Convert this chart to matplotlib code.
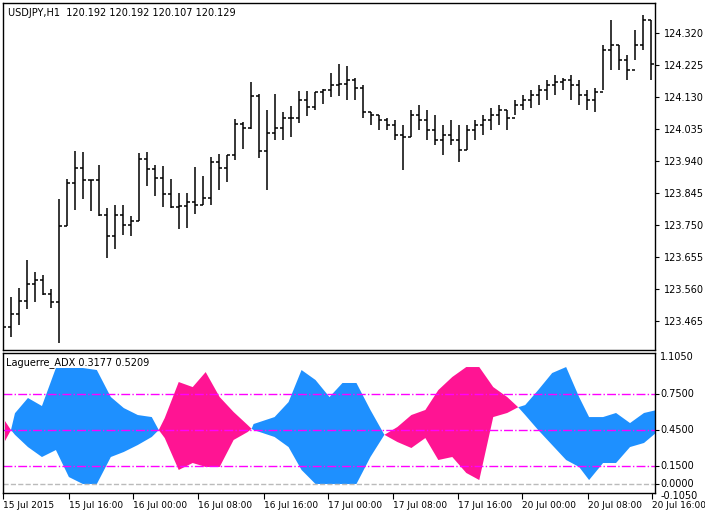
import matplotlib
matplotlib.use("Agg")
import matplotlib.pyplot as plt
import numpy as np

plt.rcParams['font.family'] = ['DejaVu Sans']

# --- price bars (H1) ---
highs = [123.483,123.536,123.563,123.646,123.610,123.601,123.560,123.827,123.886,123.970,
         123.967,123.883,123.928,123.800,123.809,123.809,123.777,123.964,123.967,123.928,
         123.925,123.886,123.845,123.845,123.922,123.895,123.952,123.961,123.958,124.065,
         124.056,124.174,124.139,124.091,124.139,124.085,124.103,124.148,124.148,124.145,
         124.154,124.201,124.228,124.222,124.186,124.166,124.085,124.076,124.068,124.062,
         124.047,124.091,124.106,124.091,124.076,124.047,124.062,124.047,124.047,124.062,
         124.076,124.097,124.106,124.091,124.121,124.136,124.151,124.166,124.180,124.195,
         124.186,124.195,124.180,124.151,124.157,124.284,124.359,124.284,124.255,124.329,
         124.373,124.359]
lows = [123.438,123.417,123.453,123.500,123.521,123.542,123.503,123.399,123.747,123.794,
        123.827,123.791,123.777,123.652,123.679,123.720,123.717,123.762,123.866,123.836,
        123.803,123.800,123.738,123.741,123.782,123.809,123.809,123.854,123.877,123.943,
        123.975,124.035,123.949,123.854,124.002,124.002,124.011,124.053,124.073,124.091,
        124.109,124.130,124.133,124.121,124.121,124.068,124.047,124.032,124.032,124.002,
        123.913,124.011,124.032,124.002,123.987,123.958,123.987,123.937,123.973,124.002,
        124.017,124.032,124.047,124.032,124.076,124.091,124.097,124.106,124.121,124.136,
        124.151,124.121,124.106,124.091,124.085,124.151,124.210,124.210,124.180,124.240,
        124.270,124.180]
closes = [123.447,123.485,123.524,123.575,123.587,123.545,123.521,123.747,123.875,123.919,
          123.883,123.883,123.779,123.717,123.779,123.750,123.762,123.946,123.916,123.889,
          123.842,123.803,123.806,123.818,123.809,123.830,123.937,123.919,123.958,124.050,
          124.038,124.133,123.970,124.023,124.038,124.068,124.068,124.121,124.100,124.145,
          124.151,124.166,124.169,124.180,124.157,124.085,124.076,124.062,124.047,124.017,
          124.011,124.076,124.062,124.032,124.002,124.017,124.002,123.973,124.032,124.047,
          124.062,124.076,124.091,124.068,124.106,124.121,124.136,124.151,124.166,124.174,
          124.180,124.166,124.136,124.121,124.145,124.270,124.284,124.240,124.210,124.284,
          124.359,124.228]
price_ticks = [124.320,124.225,124.130,124.035,123.940,123.845,123.750,123.655,123.560,123.465]

# --- indicator envelope (x in chart positions) ---
ind_x = [4,10,14,27,41,55,68,82,96,110,123,137,151,158,164,178,192,205,219,233,247,251,253,
         274,288,301,315,329,342,356,370,384,397,411,425,438,452,466,479,493,507,518,525,538,
         552,566,579,589,603,616,630,644,657]
ind_hi = [0.525,0.45,0.59,0.717,0.65,0.967,0.967,0.967,0.95,0.725,0.633,0.575,0.558,0.45,
          0.55,0.85,0.808,0.933,0.725,0.60,0.492,0.46,0.50,0.558,0.683,0.95,0.867,0.725,
          0.842,0.842,0.617,0.41,0.475,0.575,0.617,0.783,0.892,0.975,0.975,0.808,0.725,0.64,
          0.658,0.783,0.925,0.975,0.725,0.558,0.558,0.592,0.508,0.592,0.617]
ind_lo = [0.358,0.45,0.41,0.308,0.225,0.283,0.058,0.0,0.0,0.225,0.267,0.325,0.392,0.45,
          0.383,0.117,0.175,0.142,0.142,0.367,0.433,0.46,0.45,0.392,0.308,0.117,0.0,0.0,
          0.0,0.0,0.225,0.41,0.35,0.30,0.383,0.20,0.225,0.092,0.033,0.558,0.592,0.64,
          0.575,0.45,0.325,0.20,0.142,0.033,0.175,0.175,0.308,0.342,0.433]
# 1 = bullish (blue), -1 = bearish (pink), 0 = crossing
ind_dir = [-1,0,1,1,1,1,1,1,1,1,1,1,1,0,-1,-1,-1,-1,-1,-1,-1,0,1,1,1,1,1,1,1,1,1,0,
           -1,-1,-1,-1,-1,-1,-1,-1,-1,0,1,1,1,1,1,1,1,1,1,1,1]
levels = [0.75, 0.45, 0.15]

time_pos = [2,68,132,197,263,327,393,458,522,588,652]
time_labels = ['15 Jul 2015','15 Jul 16:00','16 Jul 00:00','16 Jul 08:00','16 Jul 16:00',
               '17 Jul 00:00','17 Jul 08:00','17 Jul 16:00','20 Jul 00:00','20 Jul 08:00',
               '20 Jul 16:00']

fig = plt.figure(figsize=(7.05, 5.15), dpi=100)
W, H = 705, 515
L, R = 3, 655
ax1 = fig.add_axes([L/W, 1-350/H, (R-L)/W, 347/H])
ax2 = fig.add_axes([L/W, 1-493/H, (R-L)/W, 140/H])
xlim = (L, R)

# price bars
bar_x = [3 + 8*i for i in range(len(closes))]
opens = [closes[0]] + closes[:-1]
for x, o, h, l, c in zip(bar_x, opens, highs, lows, closes):
    ax1.plot([x, x], [l, h], color='black', lw=1.1, solid_capstyle='butt')
    ax1.plot([x-3, x], [o, o], color='black', lw=1.1, solid_capstyle='butt')
    ax1.plot([x, x+3], [c, c], color='black', lw=1.1, solid_capstyle='butt')
ax1.set_xlim(*xlim)
ax1.set_ylim(123.379, 124.409)
ax1.yaxis.tick_right()
ax1.set_yticks(price_ticks)
ax1.set_yticklabels([f"{v:.3f}" for v in price_ticks])
ax1.set_xticks([])
ax1.tick_params(axis='y', labelsize=7, length=3, direction='out')
ax1.text(0.008, 0.985, 'USDJPY,H1  120.192 120.192 120.107 120.129', transform=ax1.transAxes,
         fontsize=7, va='top', ha='left')

# indicator
x = np.array(ind_x, float); hi = np.array(ind_hi); lo = np.array(ind_lo); d = np.array(ind_dir)
ax2.fill_between(x, lo, hi, where=d >= 0, color='#1E90FF', lw=0, interpolate=False)
ax2.fill_between(x, lo, hi, where=d <= 0, color='#FF1493', lw=0, interpolate=False)
for lv in levels:
    ax2.axhline(lv, color='#FF00FF', lw=1, ls='-.')
ax2.axhline(0.0, color='#BBBBBB', lw=1, ls='--')
ax2.set_xlim(*xlim)
ylo, yhi = -0.075, 1.092
ax2.set_ylim(ylo, yhi)
ax2.yaxis.tick_right()
ax2.set_yticks([0.75, 0.45, 0.15, 0.0])
ax2.set_yticklabels([])
ax2.tick_params(axis='y', length=3, direction='out')
for val, txt in [(1.105, '1.1050'), (0.75, '0.7500'), (0.45, '0.4500'), (0.15, '0.1500'),
                 (0.0, '0.0000')]:
    ax2.text(1.008, (min(val, 1.06) - ylo)/(yhi-ylo), txt, transform=ax2.transAxes,
             fontsize=7, va='center', ha='left')
ax2.text(1.008, -0.02, '-0.1050', transform=ax2.transAxes, fontsize=7, va='center', ha='left')
ax2.set_xticks(time_pos)
ax2.set_xticklabels(time_labels, ha='left', fontsize=6.5)
ax2.tick_params(axis='x', length=4, direction='out', pad=2)
ax2.text(0.005, 0.97, 'Laguerre_ADX 0.3177 0.5209', transform=ax2.transAxes,
         fontsize=7, va='top', ha='left')

for ax in (ax1, ax2):
    for s in ax.spines.values():
        s.set_color('black'); s.set_linewidth(1)

fig.savefig('out.png', dpi=100, facecolor='white')
